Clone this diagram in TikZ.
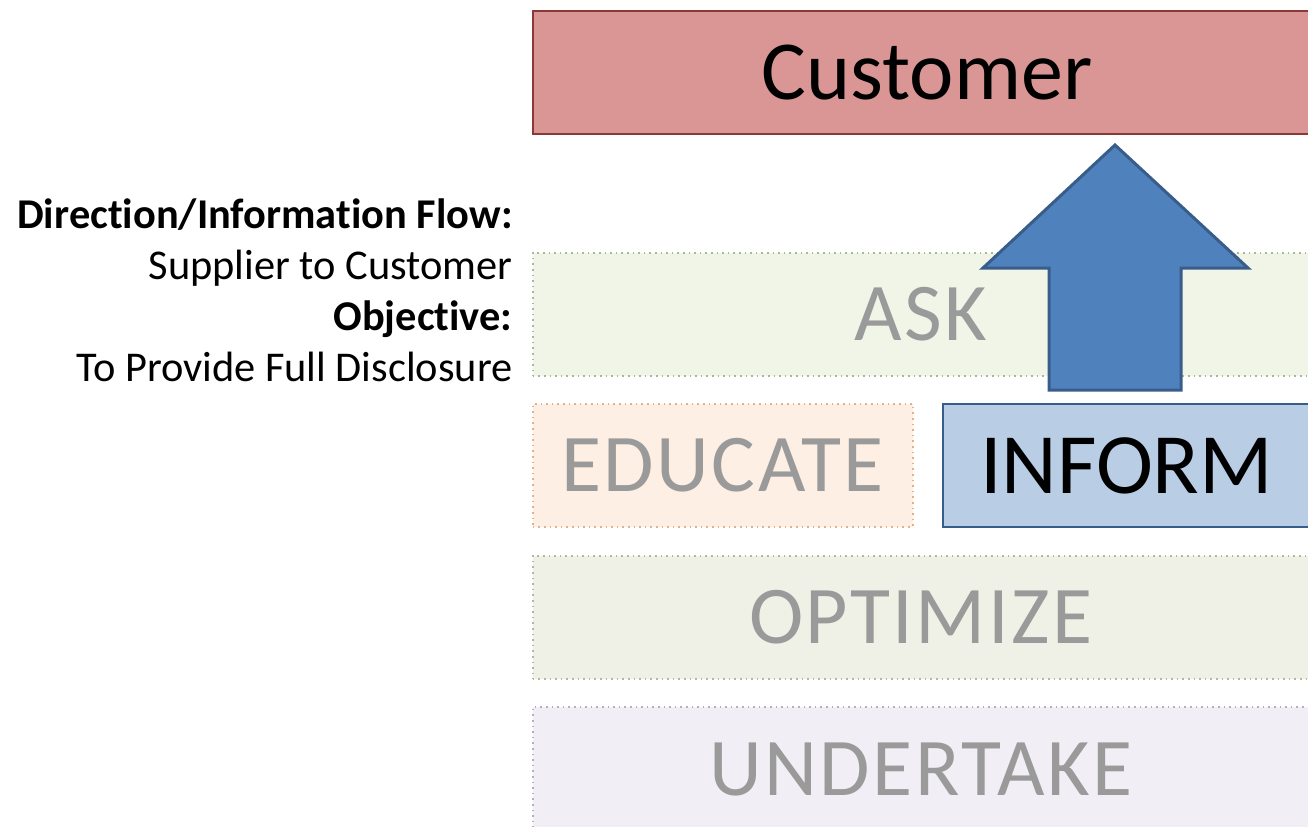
\documentclass[tikz,border=0pt]{standalone}
\usepackage{fontspec}
\setmainfont[RawFeature={-liga;-clig;-calt;-dlig}]{Carlito}
\newfontfamily\layerfont[LetterSpace=3, RawFeature={-liga;-clig;-calt}]{Carlito}
\usetikzlibrary{positioning}

\definecolor{custfill}{HTML}{D99694}
\definecolor{custline}{HTML}{8C3836}
\definecolor{infofill}{HTML}{B9CDE5}
\definecolor{infoline}{HTML}{385D8A}
\definecolor{arrowfill}{HTML}{4F81BD}
\definecolor{fadetext}{HTML}{9A9A9A}
\definecolor{askfill}{HTML}{F1F5E8}
\definecolor{askline}{HTML}{A9B894}
\definecolor{edufill}{HTML}{FDEFE4}
\definecolor{eduline}{HTML}{E3B08C}
\definecolor{optfill}{HTML}{F0F1E6}
\definecolor{optline}{HTML}{B4B79C}
\definecolor{undfill}{HTML}{F1EFF5}
\definecolor{undline}{HTML}{B3AEC2}

\begin{document}
\begin{tikzpicture}[x=0.5pt, y=-0.5pt,
  box/.style={draw, anchor=north west, inner sep=0pt, minimum height=61.5pt},
  faded/.style={box, dotted, line width=0.8pt, text=fadetext,
    font=\layerfont\fontsize{41}{41}\selectfont},
  solid box/.style={box, line width=1pt},
  info/.style={font=\fontsize{21.2}{25.5}\selectfont, align=right, inner sep=0pt}]
  \useasboundingbox (0,0) rectangle (1308,826);

  % top level
  \node[solid box, fill=custfill, draw=custline, minimum width=388pt,
    font=\fontsize{42}{42}\selectfont] (customer) at (532,10) {\hspace{6pt}Customer};

  % the four layers below it
  \node[faded, fill=askfill, draw=askline, minimum width=388pt] (ask) at (532,252) {ASK};
  \node[faded, fill=edufill, draw=eduline, minimum width=190pt] (educate) at (532,403) {EDUCATE};
  \node[solid box, fill=infofill, draw=infoline, minimum width=184pt,
    font=\fontsize{43}{43}\selectfont,
    right=14pt of educate.north east, anchor=north west] (inform) {INFORM};
  \node[faded, fill=optfill, draw=optline, minimum width=388pt] (optimize) at (532,555) {OPTIMIZE};
  \node[faded, fill=undfill, draw=undline, minimum width=388pt, minimum height=63pt] (undertake) at (532,706) {UNDERTAKE};

  % flow arrow from inform up to the customer
  \draw[fill=arrowfill, draw=infoline, line width=1.5pt, line join=miter]
    (1115,145) -- (1248,268) -- (1181,268) -- (1181,390)
    -- (1049,390) -- (1049,268) -- (983,268) -- cycle;

  \node[info, anchor=north east] (legend) at (513,198)
    {\textbf{Direction/Information Flow:}\\
     Supplier to Customer\\
     \textbf{Objective:}\\
     To Provide Full Disclosure};
\end{tikzpicture}
\end{document}
